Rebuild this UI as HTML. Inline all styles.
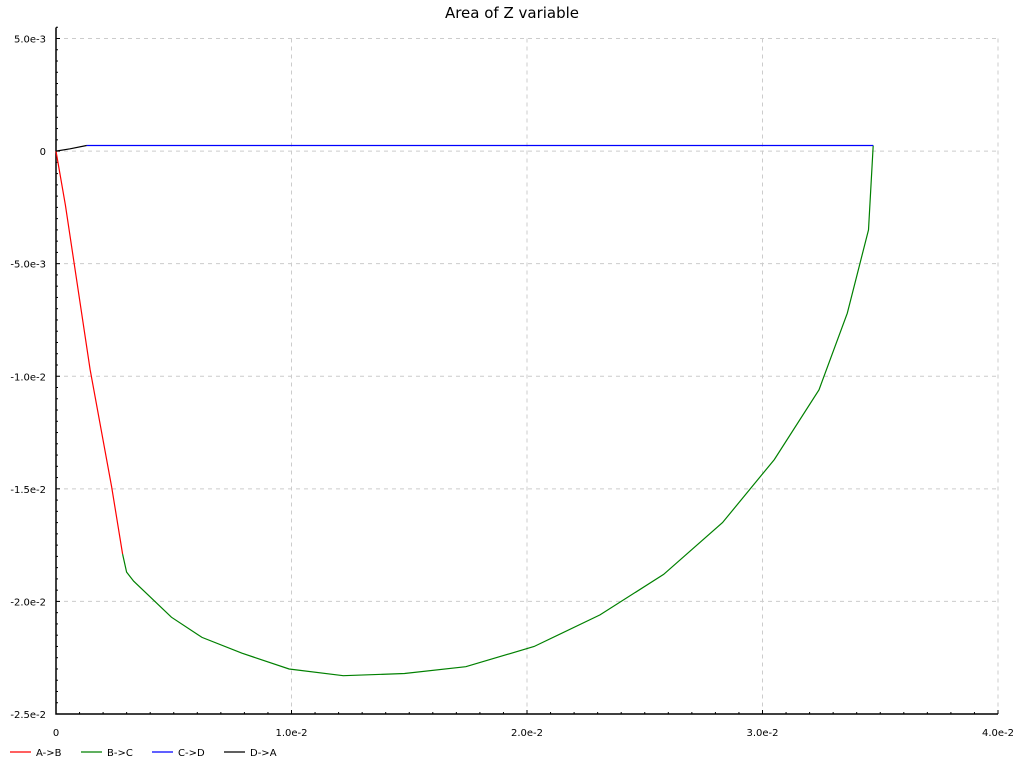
<!DOCTYPE html>
<html><head><meta charset="utf-8"><style>
body{margin:0;background:#fff;font-family:"Liberation Sans","DejaVu Sans",sans-serif}
svg text{font-family:"DejaVu Sans","Liberation Sans",sans-serif}
</style></head><body>
<svg id="chart" width="1024" height="768" xmlns="http://www.w3.org/2000/svg">
<text x="512" y="18" text-anchor="middle" font-size="15" fill="#000">Area of Z variable</text>
<g id="grid"></g><g id="axes"></g><g id="series"></g><g id="legend"></g>
</svg>
<script>
const seriesNames=["A->B","B->C","C->D","D->A"];
const seriesColors=["#ff0000","#008000","#0000ff","#000000"];
const abX=[0,0.0004,0.00145,0.00236,0.00283];
const abY=[0,-0.0024,-0.0097,-0.0149,-0.0179];
const bcX=[0.00283,0.0030,0.0033,0.0040,0.0049,0.0062,0.0079,0.0099,0.0122,0.0148,0.0174,0.0203,0.0231,0.0258,0.0283,0.0305,0.0324,0.0336,0.0345,0.0347];
const bcY=[-0.0179,-0.0187,-0.0191,-0.0198,-0.0207,-0.0216,-0.0223,-0.0230,-0.0233,-0.0232,-0.0229,-0.0220,-0.0206,-0.0188,-0.0165,-0.0137,-0.0106,-0.0072,-0.0035,0.00025];
const cdX=[0.0347,0.0013];
const cdY=[0.00025,0.00025];
const daX=[0.0013,0.0006,0];
const daY=[0.00025,0.0001,0];
const xTicks=[0,0.01,0.02,0.03,0.04];
const xTickLabels=["0","1.0e-2","2.0e-2","3.0e-2","4.0e-2"];
const yTicks=[0.005,0,-0.005,-0.01,-0.015,-0.02,-0.025];
const yTickLabels=["5.0e-3","0","-5.0e-3","-1.0e-2","-1.5e-2","-2.0e-2","-2.5e-2"];
const NS="http://www.w3.org/2000/svg";
const L=56,R=998,T=38.5,B=714;
const xs=v=>L+(v-0)/(0.04)*(R-L);
const ys=v=>T+(0.005-v)/(0.03)*(B-T);
function mk(p,tag,a){const e=document.createElementNS(NS,tag);for(const k in a)e.setAttribute(k,a[k]);p.appendChild(e);return e;}
const grid=document.getElementById('grid'),axes=document.getElementById('axes'),ser=document.getElementById('series'),leg=document.getElementById('legend');
xTicks.forEach((v,i)=>{
 if(i>0){const g=mk(grid,'line',{x1:xs(v),x2:xs(v),y1:T,y2:B,stroke:'#cccccc','stroke-dasharray':'4,4'});
 }
 const t=mk(axes,'text',{x:xs(v),y:B+22,'text-anchor':'middle','font-size':'10'});t.textContent=xTickLabels[i];
 
});
for(let k=0;k<=40;k++){const v=k*0.001;mk(axes,'line',{x1:xs(v),x2:xs(v),y1:B,y2:B-(k%10==0?4:2),stroke:'#000'});}
yTicks.forEach((v,i)=>{
 if(v>-0.025){const g=mk(grid,'line',{x1:L,x2:R,y1:ys(v),y2:ys(v),stroke:'#cccccc','stroke-dasharray':'4,4'});
 }
 const t=mk(axes,'text',{x:L-10,y:ys(v)+4,'text-anchor':'end','font-size':'10'});t.textContent=yTickLabels[i];
 
});
for(let k=-1;k<=60;k++){const v=0.005-k*0.0005;mk(axes,'line',{x1:L,x2:L+(k%10==0?4:2),y1:ys(v),y2:ys(v),stroke:'#000'});}
const ax=mk(axes,'path',{d:`M${L},${T-11}V${B}H${R}`,fill:'none',stroke:'#000','stroke-width':1.5});

const data=[[abX,abY],[bcX,bcY],[cdX,cdY],[daX,daY]];
const sn=['series-a-b','series-b-c','series-c-d','series-d-a'];
data.forEach((d,i)=>{
 const pts=d[0].map((x,j)=>xs(x).toFixed(1)+','+ys(d[1][j]).toFixed(1)).join(' ');
 const p=mk(ser,'polyline',{points:pts,fill:'none',stroke:seriesColors[i],'stroke-width':1.2});
 
 
});
const lx=[10,81,152,224];
seriesNames.forEach((n,i)=>{
 const g=mk(leg,'g',{});
 
 
 mk(g,'line',{x1:lx[i],x2:lx[i]+21,y1:752,y2:752,stroke:seriesColors[i],'stroke-width':1.2});
 const t=mk(g,'text',{x:lx[i]+26,y:756,'font-size':'10'});t.textContent=n;
});
</script>
</body></html>
